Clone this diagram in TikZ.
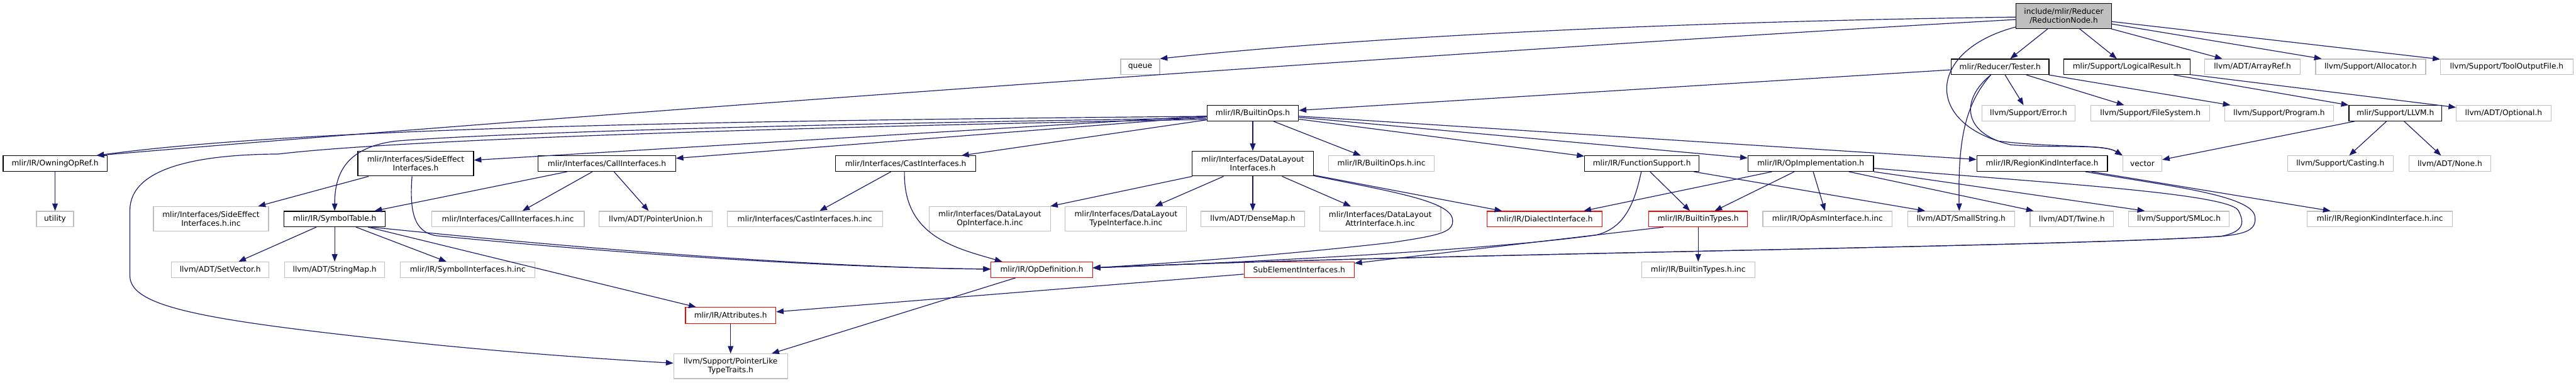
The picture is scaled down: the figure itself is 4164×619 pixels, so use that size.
\documentclass[tikz,border=0pt]{standalone}
\usepackage{fontspec}
\newfontfamily\dvs{DejaVu Sans}
\usetikzlibrary{arrows.meta}
\definecolor{edgec}{HTML}{191970}
\definecolor{extgray}{HTML}{BFBFBF}
\definecolor{rootfill}{HTML}{BFBFBF}
\definecolor{truncred}{HTML}{FF0000}
\begin{document}
\begin{tikzpicture}[x=1pt,y=-1pt,
  nd/.style={rectangle, inner sep=0pt, minimum height=25pt, line width=1.2pt, align=center,
    font=\dvs\fontsize{12.4pt}{14.6pt}\selectfont, fill=white},
  doc/.style={nd, draw=black},
  ext/.style={nd, draw=extgray},
  trunc/.style={nd, draw=truncred},
  rootnd/.style={nd, draw=black, fill=rootfill},
  two/.style={minimum height=40pt},
  dep/.style={draw=edgec, line width=1.2pt, -{Triangle[length=12pt,width=9pt]}}]
\fill[white] (0,0) rectangle (4164,619);
\useasboundingbox (0,0) rectangle (4164,619);

% ---------- nodes ----------
\node[rootnd, two, minimum width=154pt] (root) at (3336,26) {include/mlir/Reducer\\/ReductionNode.h};
\node[doc, minimum width=168pt] (owning) at (89,264.5) {mlir/IR/OwningOpRef.h};
\node[ext, minimum width=60pt] (utility) at (89,354) {utility};
\node[ext, two, minimum width=186pt] (sideinc) at (341,354) {mlir/Interfaces/SideEffect\\Interfaces.h.inc};
\node[doc, minimum width=164pt] (symtab) at (541,354) {mlir/IR/SymbolTable.h};
\node[ext, minimum width=158pt] (setvec) at (356,436) {llvm/ADT/SetVector.h};
\node[ext, minimum width=162pt] (strmap) at (541,436) {llvm/ADT/StringMap.h};
\node[doc, two, minimum width=187pt] (sidefx) at (672,264.5) {mlir/Interfaces/SideEffect\\Interfaces.h};
\node[ext, minimum width=218pt] (syminc) at (756,436) {mlir/IR/SymbolInterfaces.h.inc};
\node[doc, minimum width=222pt] (callif) at (981,264.5) {mlir/Interfaces/CallInterfaces.h};
\node[ext, minimum width=247pt] (callinc) at (821,354) {mlir/Interfaces/CallInterfaces.h.inc};
\node[ext, minimum width=183pt] (ptrunion) at (1060,354) {llvm/ADT/PointerUnion.h};
\node[ext, minimum width=251pt] (castinc) at (1301,354) {mlir/Interfaces/CastInterfaces.h.inc};
\node[trunc, minimum width=146pt, minimum height=26pt] (attrs) at (1181,510) {mlir/IR/Attributes.h};
\node[ext, two, minimum width=184pt] (ptrlike) at (1181,592) {llvm/Support/PointerLike\\TypeTraits.h};
\node[doc, minimum width=227pt] (castif) at (1464,264.5) {mlir/Interfaces/CastInterfaces.h};
\node[ext, minimum width=63pt] (queue) at (1843,108) {queue};
\node[doc, minimum width=148pt] (builtinops) at (2025,183) {mlir/IR/BuiltinOps.h};
\node[doc, two, minimum width=196pt] (dlif) at (2025,264.5) {mlir/Interfaces/DataLayout\\Interfaces.h};
\node[ext, two, minimum width=196pt] (dlop) at (1600,354) {mlir/Interfaces/DataLayout\\OpInterface.h.inc};
\node[ext, two, minimum width=196pt] (dltype) at (1820,354) {mlir/Interfaces/DataLayout\\TypeInterface.h.inc};
\node[ext, minimum width=167pt] (densemap) at (2025,354) {llvm/ADT/DenseMap.h};
\node[trunc, minimum width=164pt] (opdef) at (1684,436) {mlir/IR/OpDefinition.h};
\node[trunc, minimum width=178pt] (subelem) at (2100,436) {SubElementInterfaces.h};
\node[ext, minimum width=171pt] (boinc) at (2233,264.5) {mlir/IR/BuiltinOps.h.inc};
\node[ext, two, minimum width=196pt] (dlattr) at (2231,354) {mlir/Interfaces/DataLayout\\AttrInterface.h.inc};
\node[trunc, minimum width=186pt] (dialectif) at (2497,354) {mlir/IR/DialectInterface.h};
\node[doc, minimum width=185pt] (funcsup) at (2654,264.5) {mlir/IR/FunctionSupport.h};
\node[trunc, minimum width=160pt] (btypes) at (2745,354) {mlir/IR/BuiltinTypes.h};
\node[ext, minimum width=183pt] (btinc) at (2745,436) {mlir/IR/BuiltinTypes.h.inc};
\node[doc, minimum width=158pt] (tester) at (3233,108) {mlir/Reducer/Tester.h};
\node[doc, minimum width=204pt] (logres) at (3438,108) {mlir/Support/LogicalResult.h};
\node[ext, minimum width=151pt] (error) at (3279,183) {llvm/Support/Error.h};
\node[ext, minimum width=192pt] (filesys) at (3476,183) {llvm/Support/FileSystem.h};
\node[doc, minimum width=203pt] (opimpl) at (2927,264.5) {mlir/IR/OpImplementation.h};
\node[doc, minimum width=211pt] (regkind) at (3301,264.5) {mlir/IR/RegionKindInterface.h};
\node[ext, minimum width=63pt] (vector) at (3463,264.5) {vector};
\node[ext, minimum width=209pt] (opasm) at (2954,354) {mlir/IR/OpAsmInterface.h.inc};
\node[ext, minimum width=173pt] (smallstr) at (3170,354) {llvm/ADT/SmallString.h};
\node[ext, minimum width=135pt] (twine) at (3349,354) {llvm/ADT/Twine.h};
\node[ext, minimum width=163pt] (smloc) at (3522,354) {llvm/Support/SMLoc.h};
\node[ext, minimum width=154pt] (arrayref) at (3641,108) {llvm/ADT/ArrayRef.h};
\node[ext, minimum width=178pt] (alloc) at (3832,108) {llvm/Support/Allocator.h};
\node[ext, minimum width=214pt] (toolout) at (4052,108) {llvm/Support/ToolOutputFile.h};
\node[ext, minimum width=176pt] (program) at (3684,183) {llvm/Support/Program.h};
\node[doc, minimum width=150pt] (llvmh) at (3872,183) {mlir/Support/LLVM.h};
\node[ext, minimum width=153pt] (optional) at (4047,183) {llvm/ADT/Optional.h};
\node[ext, minimum width=171pt] (casting) at (3783,264.5) {llvm/Support/Casting.h};
\node[ext, minimum width=132pt] (none) at (3960,264.5) {llvm/ADT/None.h};
\node[ext, minimum width=235pt] (rkinc) at (3847,354) {mlir/IR/RegionKindInterface.h.inc};

% ---------- edges ----------
% root
\draw[dep] ([yshift=-5.6pt]root.west) .. controls (2400,80) and (1000,180) .. ([xshift=67pt]owning.north);
\draw[dep] ([yshift=-1.6pt]root.west) .. controls (2700,35) and (2200,60) .. (queue.north east);
\draw[dep] (root) -- (tester);
\draw[dep] (root) -- (logres);
\draw[dep] (root) -- (arrayref);
\draw[dep] (root) -- (alloc);
\draw[dep] (root) -- (toolout);
\draw[dep] ([yshift=3pt]root.south west) .. controls (3120,80) and (3110,190) .. (3230,228)
   .. controls (3330,240) and (3400,232) .. (vector.north west);
% tester
\draw[dep] (tester) -- (builtinops);
\draw[dep] (tester) -- (error);
\draw[dep] (tester) -- (filesys);
\draw[dep] (tester) -- (program);
\draw[dep] ([xshift=-15pt]tester.south) .. controls (3170,160) and (3170,215) .. (3250,234)
   .. controls (3320,240) and (3400,232) .. (vector.north west);
\draw[dep] ([xshift=-15pt]tester.south) .. controls (3175,170) and (3165,230) .. ([xshift=-3pt]smallstr.north);
% logical result, LLVM.h
\draw[dep] (logres) -- (llvmh);
\draw[dep] (logres) -- (optional);
\draw[dep] (llvmh) -- (vector);
\draw[dep] (llvmh) -- (casting);
\draw[dep] (llvmh) -- (none);
% BuiltinOps
\draw[dep] ([yshift=-5pt]builtinops.west) .. controls (1200,195) and (500,205) .. ([xshift=67pt]owning.north);
\draw[dep] ([yshift=-8pt]builtinops.west) .. controls (1300,200) and (800,215) .. (640,228)
   .. controls (560,238) and (541,280) .. (symtab.north);
\draw[dep] ([yshift=-10pt]builtinops.west) .. controls (1300,205) and (650,225) .. (450,249)
   .. controls (280,250) and (210,285) .. (210,340) -- (210,446)
   .. controls (210,500) and (350,520) .. (700,557)
   .. controls (850,572) and (1000,582) .. ([yshift=5pt]ptrlike.west);
\draw[dep] (builtinops) -- (sidefx);
\draw[dep] (builtinops) -- (callif);
\draw[dep] (builtinops) -- (castif);
\draw[dep] (builtinops) -- (dlif);
\draw[dep] (builtinops) -- (boinc);
\draw[dep] (builtinops) -- (funcsup);
\draw[dep] (builtinops) -- (opimpl);
\draw[dep] (builtinops) -- (regkind);
% owning
\draw[dep] (owning) -- (utility);
% side effect
\draw[dep] (sidefx) -- (sideinc);
\draw[dep] ([xshift=-6pt]sidefx.south) .. controls (662,340) and (668,375) .. (705,381)
   .. controls (950,405) and (1300,432) .. ([yshift=1pt]opdef.west);
% symbol table
\draw[dep] (symtab) -- (setvec);
\draw[dep] (symtab) -- (strmap);
\draw[dep] (symtab) -- (syminc);
\draw[dep] (symtab) -- (attrs);
\draw[dep] ([xshift=59pt]symtab.south) .. controls (900,398) and (1300,432) .. ([yshift=1pt]opdef.west);
% call interfaces
\draw[dep] (callif) -- (symtab);
\draw[dep] (callif) -- (callinc);
\draw[dep] (callif) -- (ptrunion);
% cast interfaces
\draw[dep] (castif) -- (castinc);
\draw[dep] ([xshift=-2pt]castif.south) .. controls (1460,380) and (1540,400) .. ([xshift=-64pt]opdef.north);
% data layout
\draw[dep] (dlif) -- (dlop);
\draw[dep] (dlif) -- (dltype);
\draw[dep] (dlif) -- (densemap);
\draw[dep] (dlif) -- (dlattr);
\draw[dep] (dlif) -- (dialectif);
\draw[dep] ([yshift=1pt]dlif.south east) .. controls (2250,310) and (2345,325) .. (2348,355)
   .. controls (2350,375) and (2330,380) .. (2250,392)
   .. controls (2050,415) and (1850,428) .. ([yshift=3pt]opdef.east);
% function support
\draw[dep] ([xshift=-1pt]funcsup.south) .. controls (2640,340) and (2620,370) .. (2580,380)
   .. controls (2400,405) and (2000,425) .. ([yshift=3pt]opdef.east);
\draw[dep] (funcsup) -- (btypes);
\draw[dep] ([xshift=84pt]funcsup.south) -- ([xshift=-58pt]smallstr.north);
% op implementation
\draw[dep] (opimpl) -- (dialectif);
\draw[dep] (opimpl) -- (btypes);
\draw[dep] (opimpl) -- (opasm);
\draw[dep] (opimpl) -- (twine);
\draw[dep] (opimpl.south east) -- ([xshift=-55pt]smloc.north);
\draw[dep] ([yshift=-7.5pt]opimpl.east) .. controls (3300,295) and (3600,312) .. (3618,340)
   .. controls (3630,362) and (3625,375) .. (3590,382)
   .. controls (3300,400) and (2300,410) .. ([yshift=3pt]opdef.east);
% region kind
\draw[dep] (regkind) -- (rkinc);
\draw[dep] ([xshift=70pt]regkind.south) .. controls (3500,300) and (3640,315) .. (3645,350)
   .. controls (3648,372) and (3630,378) .. (3590,382)
   .. controls (3300,400) and (2300,410) .. ([yshift=3pt]opdef.east);
% builtin types
\draw[dep] (btypes) -- (btinc);
\draw[dep] ([xshift=-56pt]btypes.south) -- (subelem);
% lower part
\draw[dep] (subelem) -- (attrs);
\draw[dep] (opdef) -- (ptrlike);
\draw[dep] (attrs) -- (ptrlike);
\end{tikzpicture}
\end{document}
